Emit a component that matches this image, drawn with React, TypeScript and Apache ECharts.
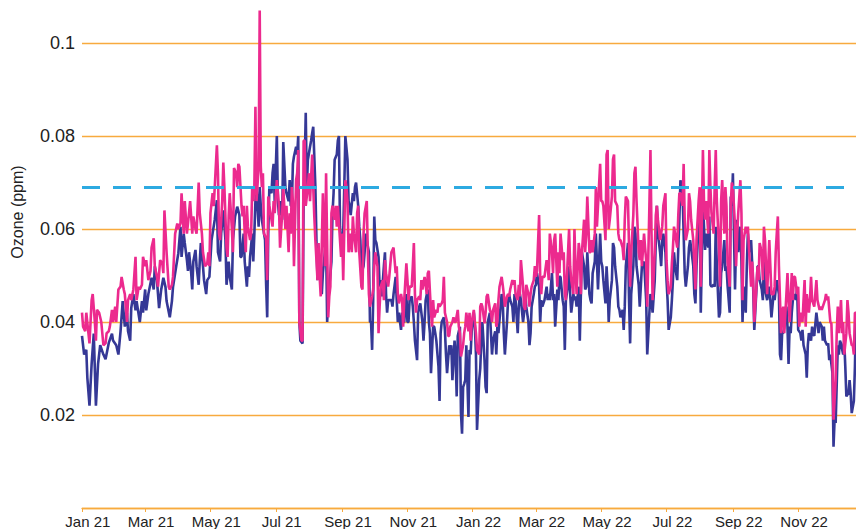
import { useEffect, useRef } from "react";
import * as echarts from "echarts";

// x values are days since 1 Jan 2021
const START = Date.UTC(2021, 0, 1);
const tickMonths: [number, number][] = [
  [2021, 0], [2021, 2], [2021, 4], [2021, 6], [2021, 8], [2021, 10],
  [2022, 0], [2022, 2], [2022, 4], [2022, 6], [2022, 8], [2022, 10],
];
const tickLabels = ["Jan 21", "Mar 21", "May 21", "Jul 21", "Sep 21", "Nov 21", "Jan 22", "Mar 22", "May 22", "Jul 22", "Sep 22", "Nov 22"];
const standardPpm = 0.069;
const yMin = 0;
const yMax = 0.1;
const yStep = 0.02;
const lastDay = 723;

// Site 1 (dark blue) daily ozone, ppm
const blueA: [number, number][] = [[0,.037],[2,.033],[4,.034],[5,.028],[7,.022],[9,.031],[11,.0375],[13,.022],[15,.031],[17,.035],[20,.033],[22,.032],[25,.0355],[28,.0375],[29,.036],[32,.035],[34,.033],[36,.038],[38,.0445],[40,.039],[42,.042],[43,.038],[45,.036],[46,.043],[48,.046],[50,.0425],[51,.0445],[54,.040],[56,.0445],[57,.042],[59,.047],[60,.0425],[62,.046],[65,.0495],[67,.047],[68,.052],[70,.049],[71,.046],[72,.043],[74,.047],[76,.0495],[78,.0475],[79,.0445],[82,.041],[84,.0445],[85,.0475],[88,.052],[90,.0548],[92,.0605],[93,.054],[95,.059],[96,.057],[98,.0533],[99,.051],[100,.055],[102,.0505],[103,.047],[104,.053],[106,.0555],[107,.052],[109,.048],[110,.053],[111,.057],[113,.052],[114,.049],[116,.046],[117,.049],[119,.0497],[121,.0576],[124,.062],[126,.0662],[127,.055],[129,.053],[130,.059],[132,.064],[134,.0576],[135,.048],[137,.053],[138,.0497],[140,.047],[141,.0576],[143,.0627],[145,.0648],[147,.063]];
const blueB: [number, number][] = [[148,.054],[149,.054],[151,.059],[152,.053],[154,.0476],[155,.052],[156,.0497],[157,.054],[159,.059],[160,.053],[161,.059],[162,.066],[163,.069],[165,.0605],[166,.069],[167,.065],[168,.062],[170,.059],[171,.0576],[172,.048],[173,.041],[174,.059],[175,.069],[177,.0677],[178,.072],[179,.074],[180,.066],[182,.080],[183,.066],[184,.063],[185,.066],[187,.062],[188,.0787],[190,.069],[191,.0677],[193,.066],[194,.0705],[195,.065],[196,.065],[197,.074],[198,.0756],[200,.0777],[201,.076],[202,.080],[203,.040],[204,.036],[206,.0354],[207,.066],[208,.0734],[209,.085],[210,.069],[211,.0749],[213,.0777],[214,.079],[215,.0806],[216,.082],[218,.069],[219,.0576],[220,.049],[221,.055],[223,.052],[224,.046],[225,.0505],[226,.053],[228,.0576],[229,.040],[230,.0447],[231,.0476],[233,.053],[234,.0634],[235,.0677],[236,.0749],[238,.076],[239,.079],[240,.080],[241,.0605],[243,.055],[244,.059],[245,.069],[246,.080],[248,.0749],[249,.066],[250,.065],[251,.063],[253,.0677],[254,.066],[255,.069],[256,.070],[258,.065],[259,.0605],[260,.0576],[261,.0505],[263,.052],[264,.055],[265,.059],[266,.0576],[268,.055],[269,.040],[270,.040],[271,.034],[272,.0447],[273,.0627],[274,.0576],[275,.057],[277,.054],[278,.0476],[279,.049],[280,.0455],[282,.052],[283,.055],[284,.046],[285,.042],[286,.0447],[287,.0447]];
const blueC: [number, number][] = [[289,.0447],[290,.0433],[291,.046],[293,.0497],[294,.0447],[295,.040],[296,.042],[298,.0383],[299,.042],[300,.040],[301,.040],[303,.046],[304,.040],[305,.040],[306,.0447],[308,.0455],[309,.0433],[310,.040],[311,.036],[313,.0318],[314,.042],[315,.0433],[316,.044],[318,.040],[319,.036],[320,.040],[321,.0447],[323,.047],[324,.040],[325,.0376],[326,.029],[328,.039],[329,.039],[330,.0376],[331,.036],[333,.0304],[334,.023],[335,.0376],[336,.040],[338,.041],[339,.0383],[340,.033],[341,.029],[343,.035],[344,.033],[345,.035],[346,.0275],[348,.036],[349,.0326],[350,.024],[351,.037],[353,.039],[354,.0204],[355,.016],[356,.026],[357,.0267],[358,.0275],[359,.035],[361,.0196],[362,.034],[363,.033],[364,.038],[366,.042],[367,.039],[368,.033],[369,.0168],[371,.0275],[372,.030],[373,.036],[374,.040],[376,.0318],[377,.026],[378,.0247],[379,.040],[381,.042],[382,.0376],[383,.033],[384,.036],[386,.038],[387,.033],[388,.039],[389,.0376],[391,.0433],[392,.046],[393,.0447],[394,.0376],[395,.033],[397,.040],[398,.0447],[399,.046],[400,.0447],[402,.0433],[403,.040],[404,.046],[405,.0447],[407,.0376],[408,.0433],[409,.046],[410,.0447],[412,.040],[413,.042],[414,.046],[415,.0433],[417,.040],[418,.035],[419,.0376],[420,.0433],[422,.046],[423,.0476],[424,.048],[425,.0505],[427,.0476],[428,.040],[429,.0447],[430,.0433],[432,.0447]];
const blueD: [number, number][] = [[434,.0476],[435,.0447],[436,.046],[437,.0447],[439,.0505],[440,.0447],[441,.046],[442,.039],[444,.047],[445,.0447],[446,.0497],[447,.0497],[449,.0447],[450,.0433],[451,.034],[452,.0447],[454,.048],[455,.052],[456,.046],[457,.042],[459,.046],[460,.0447],[461,.0455],[462,.0433],[464,.0476],[465,.036],[466,.046],[467,.055],[469,.052],[470,.047],[471,.0476],[472,.055],[474,.046],[475,.0447],[476,.044],[477,.0505],[479,.053],[480,.059],[481,.053],[482,.047],[484,.059],[485,.053],[486,.052],[487,.049],[489,.044],[490,.052],[491,.0476],[492,.040],[493,.0447],[495,.049],[496,.057],[497,.056],[498,.052],[500,.0476],[501,.0433],[502,.0426],[503,.041],[505,.0426],[506,.0383],[507,.0433],[508,.052],[510,.057],[511,.0447],[512,.0354],[513,.046],[515,.052],[516,.0605],[517,.059],[518,.052],[520,.048],[521,.0433],[522,.0476],[523,.052],[525,.053],[526,.049],[527,.0447],[528,.033],[530,.042],[531,.046],[532,.0447],[533,.042],[535,.049],[536,.0576],[537,.065],[538,.059],[540,.055],[541,.052],[542,.0576],[543,.059],[545,.055],[546,.049],[547,.0447],[548,.0383],[550,.041],[551,.0447],[552,.049],[553,.055],[554,.052],[556,.049],[557,.056],[558,.062],[559,.0705],[561,.0677],[562,.059],[563,.0505],[564,.0476],[566,.052],[567,.056],[568,.0576],[569,.056],[571,.052],[572,.046],[573,.044],[574,.052],[576,.063],[577,.065],[578,.042]];
const blueE: [number, number][] = [[580,.066],[581,.0605],[582,.0555],[583,.059],[585,.056],[586,.0627],[587,.048],[588,.0476],[590,.048],[591,.0476],[592,.0605],[593,.052],[595,.041],[596,.042],[597,.0505],[598,.052],[600,.0576],[601,.051],[602,.052],[603,.048],[605,.042],[606,.067],[607,.065],[608,.072],[610,.047],[611,.0576],[612,.062],[613,.055],[615,.0605],[616,.053],[617,.040],[618,.0476],[620,.042],[621,.052],[622,.059],[623,.055],[625,.0576],[626,.0526],[627,.047],[628,.0383],[630,.047],[631,.052],[632,.052],[633,.049],[635,.047],[636,.0447],[637,.053],[638,.047],[640,.0447],[641,.046],[642,.0476],[643,.0447],[644,.041],[646,.046],[647,.0447],[648,.047],[649,.049],[651,.046],[652,.033],[653,.0318],[654,.0376],[655,.0376],[656,.039],[658,.0433],[659,.039],[660,.031],[661,.039],[662,.0376],[663,.042],[664,.0447],[666,.046],[667,.0447],[668,.0476],[669,.0383],[671,.0376],[672,.036],[673,.0383],[674,.035],[676,.033],[677,.028],[678,.035],[679,.0376],[681,.036],[682,.039],[683,.0376],[684,.037],[686,.042],[687,.040],[688,.0376],[689,.040],[691,.039],[692,.036],[693,.039],[694,.036],[696,.035],[697,.0354],[698,.0318],[699,.033],[701,.029],[702,.0132],[703,.019],[704,.0183],[706,.035],[707,.033],[708,.036],[709,.0354],[711,.033],[712,.036],[713,.0304],[714,.024],[716,.0247],[717,.0275],[718,.0247],[719,.0204],[721,.023],[722,.0304],[723,.042]];

// Site 2 (pink) daily ozone, ppm
const pinkA: [number, number][] = [[0,.042],[1,.039],[3,.038],[4,.042],[6,.0376],[7,.0354],[9,.0447],[10,.046],[12,.040],[13,.036],[14,.0426],[16,.042],[18,.040],[20,.035],[22,.0354],[23,.0376],[25,.038],[26,.039],[28,.0426],[29,.040],[31,.0433],[32,.040],[34,.047],[36,.0476],[37,.0497],[39,.047],[40,.046],[42,.040],[43,.0447],[45,.046],[46,.0447],[48,.047],[50,.054],[51,.0447],[53,.0476],[54,.047],[56,.048],[57,.054],[59,.052],[60,.0533],[62,.049],[64,.051],[65,.056],[67,.058],[68,.052],[70,.0497],[71,.0476],[73,.0533],[75,.0526],[76,.0505],[77,.064],[79,.055],[81,.0476],[82,.047],[84,.048],[85,.0497],[87,.059],[89,.0612],[90,.060],[92,.0612],[93,.0677],[95,.059],[96,.066],[98,.059],[99,.0612],[101,.066],[103,.059],[104,.0627],[106,.060],[107,.059],[109,.070],[110,.0634],[112,.059],[113,.055],[115,.052],[117,.0526],[118,.055],[119,.052],[120,.0634],[122,.0677],[123,.0649],[124,.069],[126,.078],[127,.072],[128,.059],[129,.0576],[131,.066],[132,.0743],[133,.069],[135,.056],[136,.054],[137,.0627],[138,.0677],[140,.060],[141,.055],[142,.0731],[144,.072],[145,.069],[146,.074]];
const pinkB: [number, number][] = [[147,.0734],[149,.065],[150,.0627],[151,.065],[152,.059],[153,.055],[154,.065],[155,.0605],[157,.0576],[158,.059],[159,.069],[160,.066],[161,.069],[162,.0863],[163,.066],[165,.0734],[166,.107],[167,.0734],[168,.069],[169,.072],[170,.059],[172,.058],[173,.049],[174,.067],[175,.065],[177,.062],[178,.0605],[179,.066],[180,.0634],[182,.0705],[183,.0677],[184,.065],[185,.056],[187,.0634],[188,.069],[190,.060],[191,.065],[193,.055],[194,.0634],[195,.059],[196,.069],[197,.066],[198,.052],[200,.0705],[201,.072],[202,.077],[203,.040],[205,.036],[206,.036],[207,.079],[208,.079],[209,.065],[211,.069],[212,.072],[213,.066],[215,.076],[216,.069],[217,.0627],[218,.0576],[220,.049],[221,.057],[222,.0497],[223,.0455],[225,.0677],[226,.059],[227,.052],[228,.072],[230,.041],[231,.0455],[232,.0476],[233,.0634],[234,.065],[236,.062],[237,.065],[238,.0605],[239,.065],[241,.0576],[242,.054],[243,.059],[244,.049],[246,.0705],[247,.069],[248,.066],[249,.055],[251,.059],[252,.055],[253,.0627],[254,.059],[256,.055],[257,.0634],[258,.065],[259,.055],[261,.0476],[262,.047],[263,.059],[264,.0634],[266,.066],[267,.055],[268,.046],[269,.0433],[271,.0455],[272,.047],[273,.052],[274,.055],[276,.052],[277,.0376],[278,.0433],[279,.0476],[281,.049],[282,.0447],[283,.0533],[284,.0505],[286,.0476],[287,.0497]];
const pinkC: [number, number][] = [[289,.055],[290,.0555],[291,.056],[293,.0505],[294,.052],[295,.046],[296,.044],[298,.046],[299,.0447],[300,.039],[301,.0447],[303,.0526],[304,.049],[305,.0447],[306,.0476],[308,.0476],[309,.052],[310,.057],[311,.046],[312,.042],[313,.0447],[315,.0455],[316,.0447],[317,.049],[318,.047],[320,.0497],[321,.048],[322,.046],[323,.0505],[324,.051],[326,.042],[327,.039],[328,.0447],[329,.041],[331,.0426],[332,.042],[333,.044],[334,.0433],[336,.044],[337,.0447],[338,.0497],[339,.042],[341,.040],[342,.037],[343,.037],[344,.039],[346,.040],[347,.041],[348,.040],[349,.040],[351,.0426],[352,.039],[353,.0376],[354,.0326],[356,.035],[357,.0376],[358,.039],[359,.042],[361,.038],[362,.042],[363,.036],[364,.040],[366,.0426],[367,.040],[368,.0376],[369,.034],[371,.033],[372,.0433],[373,.044],[374,.0433],[376,.0397],[377,.042],[378,.0455],[379,.046],[381,.0426],[382,.042],[383,.040],[384,.0426],[386,.044],[387,.039],[388,.040],[389,.0447],[390,.0476],[392,.0497],[393,.048],[394,.046],[395,.0433],[397,.0455],[398,.046],[399,.0455],[400,.047],[402,.049],[403,.048],[404,.049],[405,.046],[407,.0447],[408,.048],[409,.0455],[410,.0533],[412,.0476],[413,.0433],[414,.0426],[415,.048],[417,.046],[418,.0433],[419,.046],[420,.0476],[422,.049],[423,.052],[424,.0497],[425,.051],[427,.063],[428,.0497],[429,.046],[430,.0497],[432,.0497]];
const pinkD: [number, number][] = [[434,.0533],[435,.052],[436,.049],[437,.059],[439,.055],[440,.0505],[441,.0576],[442,.059],[444,.0476],[445,.055],[446,.0505],[447,.059],[449,.0533],[450,.055],[451,.046],[452,.0447],[454,.055],[455,.060],[456,.052],[457,.049],[459,.046],[460,.060],[461,.052],[462,.046],[464,.057],[465,.055],[466,.046],[467,.055],[469,.062],[470,.055],[471,.059],[472,.067],[474,.055],[475,.055],[476,.0576],[477,.055],[479,.059],[480,.069],[481,.0605],[482,.065],[484,.074],[485,.066],[486,.066],[487,.065],[489,.0576],[490,.076],[491,.077],[492,.060],[493,.062],[495,.067],[496,.075],[497,.076],[498,.066],[500,.065],[501,.059],[502,.0576],[503,.0576],[505,.056],[506,.0533],[507,.062],[508,.067],[510,.066],[511,.056],[512,.0476],[513,.055],[515,.063],[516,.072],[517,.0734],[518,.066],[520,.055],[521,.0533],[522,.0576],[523,.052],[525,.059],[526,.056],[527,.0533],[528,.0433],[530,.065],[531,.077],[532,.059],[533,.0447],[535,.055],[536,.063],[537,.065],[538,.062],[540,.0576],[541,.059],[542,.0605],[543,.065],[545,.0677],[546,.0533],[547,.049],[548,.046],[550,.0476],[551,.0526],[552,.056],[553,.0605],[554,.059],[556,.056],[557,.063],[558,.0677],[559,.0677],[561,.065],[562,.074],[563,.062],[564,.0576],[566,.060],[567,.0677],[568,.066],[569,.062],[571,.0576],[572,.052],[573,.047],[574,.0576],[576,.066],[577,.069]];
const pinkE: [number, number][] = [[578,.0476],[580,.077],[581,.066],[582,.062],[583,.066],[585,.059],[586,.077],[587,.069],[588,.0634],[590,.059],[591,.069],[592,.077],[593,.066],[595,.056],[596,.0476],[597,.066],[598,.0705],[600,.059],[601,.069],[602,.065],[603,.053],[605,.0476],[606,.065],[607,.070],[608,.069],[610,.0605],[611,.052],[612,.059],[613,.0634],[615,.0705],[616,.0634],[617,.0447],[618,.0576],[620,.0605],[621,.059],[622,.0605],[623,.056],[625,.0476],[626,.053],[627,.049],[628,.040],[630,.0476],[631,.052],[632,.049],[633,.057],[635,.055],[636,.049],[637,.0605],[638,.0576],[640,.046],[641,.052],[642,.0576],[643,.052],[644,.046],[646,.046],[647,.0476],[648,.055],[649,.059],[650,.0627],[651,.052],[653,.0376],[654,.042],[655,.0433],[656,.0376],[658,.046],[659,.0505],[660,.0447],[661,.040],[663,.0505],[664,.0447],[665,.0497],[666,.0497],[668,.046],[669,.0476],[670,.039],[671,.042],[673,.040],[674,.0447],[675,.049],[676,.039],[677,.046],[679,.042],[680,.0447],[681,.0497],[682,.0447],[684,.0433],[685,.046],[686,.049],[687,.0447],[689,.0426],[690,.0433],[691,.0426],[692,.0433],[694,.0447],[695,.046],[696,.0447],[697,.0455],[699,.040],[700,.0397],[701,.033],[702,.019],[704,.0275],[705,.0376],[706,.0433],[707,.0376],[709,.0447],[710,.0376],[711,.040],[712,.033],[714,.0376],[715,.0447],[716,.042],[717,.0376],[719,.035],[720,.035],[721,.033],[722,.042],[723,.042]];

const ORANGE = "#F8AA3E";
const BLUE = "#353896";
const PINK = "#EC2A8E";
const SKY = "#2DAAE1";
const FONT = "Liberation Sans, Arial, sans-serif";

export default function App() {
  const ref = useRef<HTMLDivElement>(null);
  useEffect(() => {
    if (!ref.current) return;
    const chart = echarts.init(ref.current, undefined, { renderer: "svg" });
    const tickDays = tickMonths.map(([y, m]) => Math.round((Date.UTC(y, m, 1) - START) / 864e5));
    const labelOffset = 5.5;
    const labelDays = tickDays.map((d) => d + labelOffset);
    chart.setOption({
      animation: false,
      grid: { left: 82, right: 0, top: 43, bottom: 21 },
      xAxis: {
        type: "value",
        min: 0,
        max: lastDay,
        axisLine: { show: true, lineStyle: { color: ORANGE, width: 1.3 } },
        axisTick: { show: true, customValues: tickDays, length: 4, lineStyle: { color: ORANGE, width: 1 } },
        axisLabel: {
          customValues: labelDays,
          formatter: (v: number) => {
            const i = labelDays.findIndex((d) => Math.abs(d - v) < 1);
            return i >= 0 ? tickLabels[i] : "";
          },
          color: "#222",
          fontSize: 15,
          fontFamily: FONT,
          margin: 6,
        },
        splitLine: { show: false },
      },
      yAxis: {
        type: "value",
        min: yMin,
        max: yMax,
        interval: yStep,
        axisLine: { show: false },
        axisTick: { show: false },
        axisLabel: { showMinLabel: false, color: "#222", fontSize: 18, fontFamily: FONT, margin: 7 },
        splitLine: { lineStyle: { color: ORANGE, width: 1.3 } },
      },
      graphic: [
        {
          type: "text",
          x: 17,
          y: 212,
          rotation: Math.PI / 2,
          style: { text: "Ozone (ppm)", fill: "#222", font: `16px ${FONT}`, align: "center", verticalAlign: "middle" },
        },
      ],
      series: [
        {
          type: "line",
          data: [...blueA, ...blueB, ...blueC, ...blueD, ...blueE],
          showSymbol: false,
          clip: false,
          lineStyle: { color: BLUE, width: 2.6 },
          itemStyle: { color: BLUE },
          z: 2,
        },
        {
          type: "line",
          data: [...pinkA, ...pinkB, ...pinkC, ...pinkD, ...pinkE],
          showSymbol: false,
          clip: false,
          lineStyle: { color: PINK, width: 2.6 },
          itemStyle: { color: PINK },
          z: 3,
          markLine: {
            silent: true,
            precision: 4,
            symbol: ["none", "none"],
            label: { show: false },
            lineStyle: { color: SKY, type: [18, 13], width: 3 },
            data: [{ yAxis: standardPpm }],
            z: 5,
          },
        },
      ],
    });
    return () => chart.dispose();
  }, []);
  return <div ref={ref} style={{ position: "absolute", left: 0, top: 0, width: 856, height: 529 }} />;
}
